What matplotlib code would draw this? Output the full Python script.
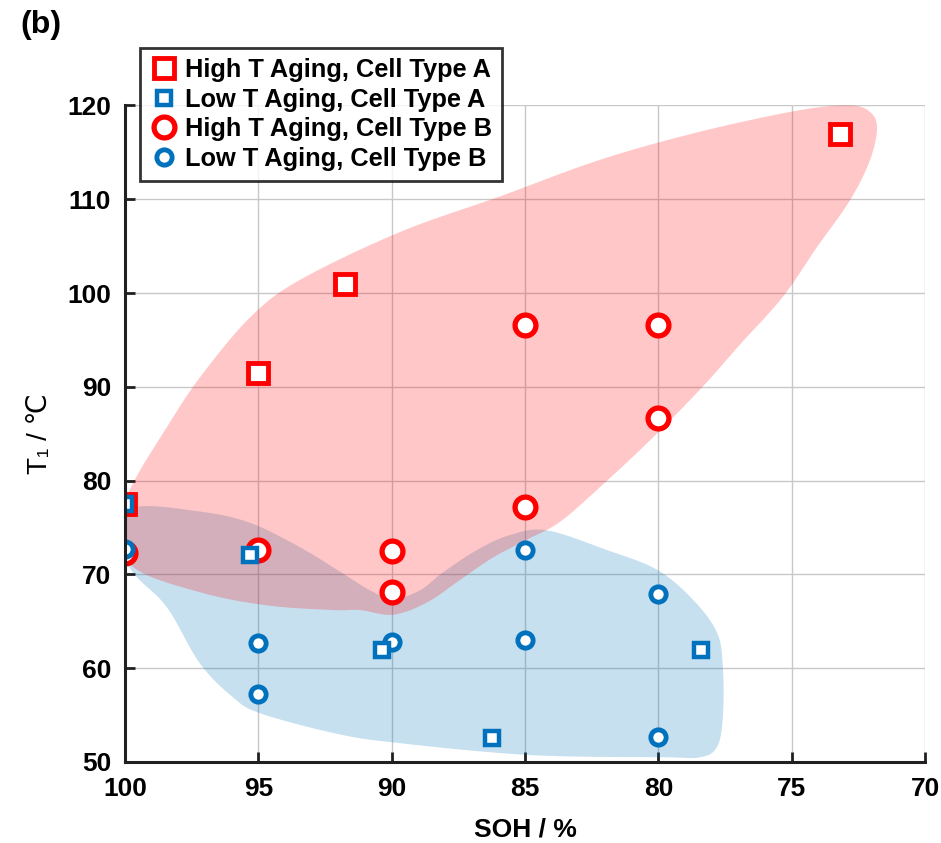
import numpy as np
import matplotlib
matplotlib.use("Agg")
import matplotlib.pyplot as plt
from matplotlib.patches import Polygon

plt.rcParams['font.family'] = ['Liberation Sans', 'DejaVu Sans']

# measured points: SOH (%) and T1 (degC)
ht_a_soh = [100.0, 95.0, 91.75, 73.2]
ht_a_t = [77.5, 91.5, 101.0, 117.0]

lt_a_soh = [100.0, 95.3, 90.35, 86.25, 78.4]
lt_a_t = [77.5, 72.1, 61.9, 52.6, 61.9]

ht_b_soh = [100.0, 95.0, 90.0, 90.0, 85.0, 85.0, 80.0, 80.0]
ht_b_t = [72.3, 72.6, 72.5, 68.1, 96.6, 77.2, 96.6, 86.7]

lt_b_soh = [100.0, 95.0, 95.0, 90.0, 85.0, 85.0, 80.0, 80.0]
lt_b_t = [72.7, 62.7, 57.2, 62.8, 72.6, 63.0, 67.9, 52.7]

labels = ["High T Aging, Cell Type A", "Low T Aging, Cell Type A",
          "High T Aging, Cell Type B", "Low T Aging, Cell Type B"]

# outlines of the shaded regions (SOH, T1)
red_region = [(100.26, 75.3), (99.70, 79.7), (98.43, 85.7), (97.19, 91.0), (95.31, 97.4),
              (93.44, 101.4), (89.69, 106.5), (85.94, 110.3), (82.19, 114.2), (78.44, 117.2),
              (74.69, 119.5), (72.81, 120.0), (72.06, 119.3), (71.80, 117.6), (72.06, 114.2),
              (72.81, 109.9), (74.05, 104.9), (75.33, 99.6), (76.94, 94.5), (78.44, 89.7),
              (80.31, 84.3), (82.19, 79.3), (83.69, 75.6), (84.93, 73.7), (86.20, 71.8),
              (87.44, 69.4), (88.68, 67.0), (89.95, 65.7), (91.19, 66.2), (92.20, 66.2),
              (94.68, 66.7), (97.19, 68.1), (99.70, 70.8)]
blue_region = [(100.26, 73.7), (99.70, 77.1), (97.19, 76.7), (95.31, 75.5), (93.44, 72.9),
               (91.94, 70.3), (90.81, 68.3), (89.95, 67.4), (88.94, 68.3), (88.08, 70.2),
               (86.80, 72.6), (85.56, 74.2), (84.18, 74.7), (81.93, 72.6), (80.05, 70.5),
               (78.70, 67.3), (77.80, 63.8), (77.58, 60.1), (77.58, 54.8), (77.80, 51.6),
               (78.44, 50.5), (79.79, 50.5), (84.89, 50.75), (89.99, 52.1), (92.20, 53.1),
               (94.94, 55.2), (95.95, 56.9), (97.19, 60.5), (98.43, 66.5), (99.70, 70.2)]


def smooth_closed(pts, n=20):
    # closed Catmull-Rom curve through the outline points
    p = np.array(pts)
    out = []
    m = len(p)
    for i in range(m):
        p0, p1, p2, p3 = p[i - 1], p[i], p[(i + 1) % m], p[(i + 2) % m]
        t = np.linspace(0, 1, n, endpoint=False)[:, None]
        seg = 0.5 * ((2 * p1) + (-p0 + p2) * t + (2 * p0 - 5 * p1 + 4 * p2 - p3) * t**2
                     + (-p0 + 3 * p1 - 3 * p2 + p3) * t**3)
        out.append(seg)
    return np.vstack(out)


red = "#ff0000"
blue = "#0072bd"

fig = plt.figure(figsize=(9.41, 8.43), dpi=100)
ax = fig.add_axes([0.1328, 0.0961, 0.8502, 0.7788])

ax.add_patch(Polygon(smooth_closed(blue_region), closed=True, facecolor=blue,
                     alpha=0.22, edgecolor="none", zorder=1))
ax.add_patch(Polygon(smooth_closed(red_region), closed=True, facecolor=red,
                     alpha=0.22, edgecolor="none", zorder=1.2))

ax.plot(ht_a_soh, ht_a_t, "s", ms=14, mfc="white", mec=red, mew=3.5, label=labels[0], zorder=3)
ax.plot(lt_a_soh, lt_a_t, "s", ms=10.5, mfc="white", mec=blue, mew=3.2, label=labels[1], zorder=4.5)
ax.plot(ht_b_soh, ht_b_t, "o", ms=15, mfc="white", mec=red, mew=3.8, label=labels[2], zorder=3.5)
ax.plot(lt_b_soh, lt_b_t, "o", ms=11, mfc="white", mec=blue, mew=3.5, label=labels[3], zorder=4)

ax.set_xlim(100, 70)
ax.set_ylim(50, 120)
ax.set_xticks(np.arange(100, 69, -5))
ax.set_yticks(np.arange(50, 121, 10))
ax.grid(True, color="#c8c8c8", linewidth=1.0)
ax.set_axisbelow(True)

for s in ["top", "right"]:
    ax.spines[s].set_visible(False)
for s in ["left", "bottom"]:
    ax.spines[s].set_linewidth(2.2)
    ax.spines[s].set_color("#202020")
    ax.spines[s].set_zorder(5)

ax.tick_params(direction="in", length=7, width=2, labelsize=19, colors="#202020")
ax.tick_params(axis="x", pad=11)
ax.tick_params(axis="y", pad=10)
for lab in ax.get_xticklabels() + ax.get_yticklabels():
    lab.set_fontweight("bold")
    lab.set_color("black")

ax.set_xlabel("SOH / %", fontsize=19, fontweight="bold", labelpad=12)
ax.set_ylabel("T₁ / ℃", fontsize=20, labelpad=10)

leg = ax.legend(loc="upper left", bbox_to_anchor=(0.019, 1.0876), frameon=True,
                fancybox=False, edgecolor="black", fontsize=18.3, handletextpad=0.25,
                borderpad=0.4, labelspacing=0.22, handlelength=1.1, borderaxespad=0)
leg.get_frame().set_linewidth(2)
for t in leg.get_texts():
    t.set_fontweight("bold")

fig.text(0.022, 0.988, "(b)", fontsize=23, fontweight="bold", va="top", ha="left")

fig.savefig("out.png", dpi=100)
